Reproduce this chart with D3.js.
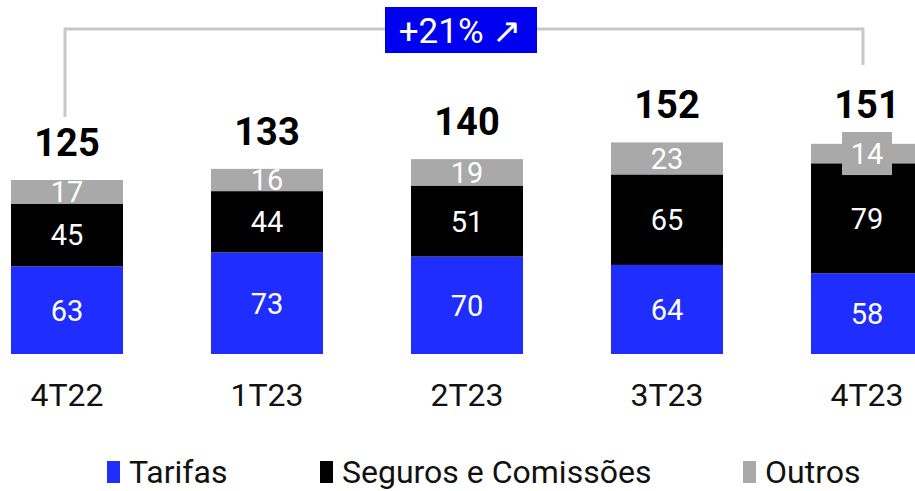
<!DOCTYPE html>
<html>
<head>
	<meta charset="utf-8">
	<script src="https://d3js.org/d3.v7.min.js"></script>
	<title>Receitas</title>
	<style>
		body { margin: 0; background: #fff; }
		svg { font-family: Roboto, "Noto Sans", sans-serif; display: block; }
	</style>
</head>
<body>
	<div id="chart"></div>

	<script type="text/javascript">
		// data
		var quarters = ["4T22", "1T23", "2T23", "3T23", "4T23"];
		var tarifas = [63, 73, 70, 64, 58];
		var seguros = [45, 44, 51, 65, 79];
		var outros = [17, 16, 19, 23, 14];
		var totals = [125, 133, 140, 152, 151];
		var seriesNames = ["Tarifas", "Seguros e Comissões", "Outros"];
		var seriesColors = ["#1f2eff", "#000000", "#a9a9a9"];
		var growthLabel = "+21% \u2197";

		var width = 915, height = 491;
		var baseY = 354;
		var barW = 112;

		var svg = d3.select("#chart").append("svg")
			.attr("width", width)
			.attr("height", height);

		var x = d3.scalePoint().domain(quarters).range([67, 867]);
		var y = d3.scaleLinear().domain([0, 160]).range([baseY, baseY - 160 * 1.392]);

		// build stack rows
		var rows = quarters.map(function(q, i) {
			return { q: q, Tarifas: tarifas[i], "Seguros e Comissões": seguros[i], Outros: outros[i], total: totals[i] };
		});
		var stack = d3.stack().keys(seriesNames)(rows);

		var layers = svg.selectAll(".layer")
			.data(stack).enter()
			.append("g")
			.attr("class", "layer")
			.attr("fill", function(d, i) { return seriesColors[i]; });

		layers.selectAll("rect")
			.data(function(d) { return d; }).enter()
			.append("rect")
			.attr("x", function(d) { return x(d.data.q) - barW / 2; })
			.attr("y", function(d) { return y(d[1]); })
			.attr("width", barW)
			.attr("height", function(d) { return y(d[0]) - y(d[1]); });

		// segment labels (small segments get a box behind the number)
		var boxTops = {};
		stack.forEach(function(layer, li) {
			layer.forEach(function(d) {
				var cx = x(d.data.q);
				var cy = (y(d[0]) + y(d[1])) / 2;
				var h = y(d[0]) - y(d[1]);
				if (h < 21) {
					svg.append("rect")
						.attr("x", cx - 25)
						.attr("y", cy - 21.5)
						.attr("width", 50)
						.attr("height", 43)
						.attr("fill", seriesColors[li]);
					boxTops[d.data.q] = cy - 21.5;
				}
				svg.append("text")
					.attr("x", cx)
					.attr("y", cy)
					.attr("dy", "0.36em")
					.attr("text-anchor", "middle")
					.attr("fill", "#fff")
					.attr("font-size", 29)
					.text(d[1] - d[0]);
			});
		});

		// totals
		svg.selectAll(".total")
			.data(rows).enter()
			.append("text")
			.attr("class", "total")
			.attr("x", function(d) { return x(d.q); })
			.attr("y", function(d) {
				var t = y(d.total) - 24;
				if (boxTops[d.q] !== undefined) t = Math.min(t, boxTops[d.q] - 14);
				return t;
			})
			.attr("text-anchor", "middle")
			.attr("font-size", 38)
			.attr("font-weight", "bold")
			.attr("fill", "#000")
			.text(function(d) { return d.total; });

		// category labels
		svg.selectAll(".cat")
			.data(quarters).enter()
			.append("text")
			.attr("class", "cat")
			.attr("x", function(d) { return x(d); })
			.attr("y", 406)
			.attr("text-anchor", "middle")
			.attr("font-size", 32)
			.attr("fill", "#111")
			.text(function(d) { return d; });

		// growth bracket
		var first = quarters[0], last = quarters[quarters.length - 1];
		svg.append("path")
			.attr("d", "M" + (x(first) - 2) + "," + 117 + "V29H" + (x(last) - 4) + "V65")
			.attr("fill", "none")
			.attr("stroke", "#c8c8c8")
			.attr("stroke-width", 3);

		svg.append("rect")
			.attr("x", 385)
			.attr("y", 7)
			.attr("width", 152)
			.attr("height", 46)
			.attr("fill", "#0000f0");
		svg.append("text")
			.attr("x", 460)
			.attr("y", 30)
			.attr("dy", "0.36em")
			.attr("text-anchor", "middle")
			.attr("font-size", 35)
			.attr("fill", "#fff")
			.text(growthLabel);

		// legend
		var legendX = [107, 320, 743];
		var legend = svg.selectAll(".legend")
			.data(seriesNames).enter()
			.append("g")
			.attr("class", "legend")
			.attr("transform", function(d, i) { return "translate(" + legendX[i] + ",0)"; });
		legend.append("rect")
			.attr("x", 0)
			.attr("y", 461)
			.attr("width", 13)
			.attr("height", 22)
			.attr("fill", function(d, i) { return seriesColors[i]; });
		legend.append("text")
			.attr("x", 22)
			.attr("y", 483)
			.attr("font-size", 32)
			.attr("fill", "#111")
			.text(function(d) { return d; });
	</script>
</body>
</html>
